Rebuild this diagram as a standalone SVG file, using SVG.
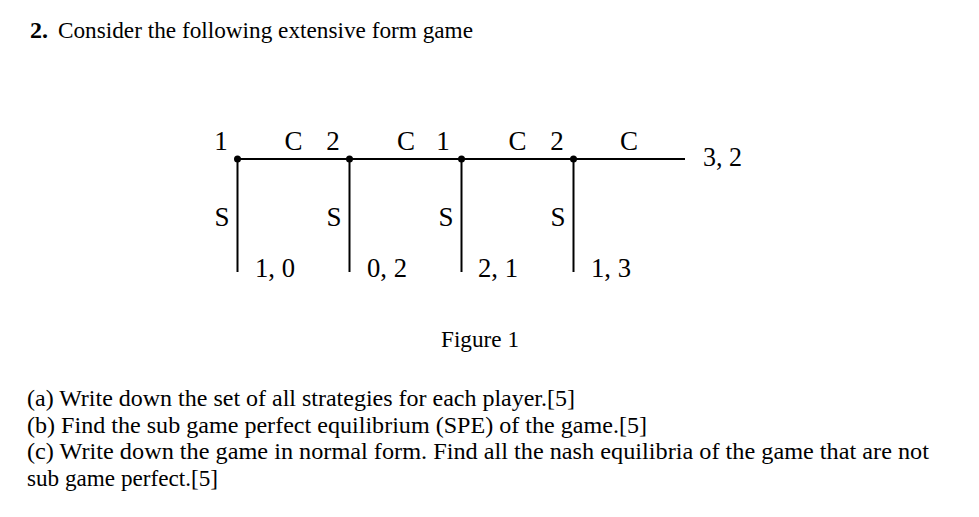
<svg xmlns="http://www.w3.org/2000/svg" width="979" height="517" viewBox="0 0 979 517">
<style>
text{font-family:"Liberation Serif","DejaVu Serif",serif;fill:#000}
.t{font-size:22.5px}
.g{font-size:27px}
.e{stroke:#000;stroke-width:2;fill:none}
</style>
<rect width="979" height="517" fill="#fff"/>
<text class="t" x="30" y="38" font-weight="bold" textLength="18" lengthAdjust="spacingAndGlyphs">2.</text>
<text class="t" x="58" y="38" textLength="415" lengthAdjust="spacingAndGlyphs">Consider the following extensive form game</text>
<g id="connectors">
<line class="e" x1="237.5" y1="159" x2="685" y2="159"/>
<line class="e" x1="237.5" y1="159" x2="237.5" y2="272"/>
<line class="e" x1="349.5" y1="159" x2="349.5" y2="272"/>
<line class="e" x1="461.5" y1="159" x2="461.5" y2="272"/>
<line class="e" x1="573.5" y1="159" x2="573.5" y2="272"/>
<text class="g" x="293.5" y="150" text-anchor="middle">C</text>
<text class="g" x="406" y="150" text-anchor="middle">C</text>
<text class="g" x="517.5" y="150" text-anchor="middle">C</text>
<text class="g" x="629" y="150" text-anchor="middle">C</text>
<text class="g" x="222" y="226" text-anchor="middle">S</text>
<text class="g" x="334" y="226" text-anchor="middle">S</text>
<text class="g" x="446" y="226" text-anchor="middle">S</text>
<text class="g" x="558" y="226" text-anchor="middle">S</text>
</g>
<g id="n1"><circle cx="237.5" cy="159" r="3.5"/><text class="g" x="221" y="150" text-anchor="middle">1</text></g>
<g id="n2"><circle cx="349.5" cy="159" r="3.5"/><text class="g" x="333" y="150" text-anchor="middle">2</text></g>
<g id="n3"><circle cx="461.5" cy="159" r="3.5"/><text class="g" x="443" y="150" text-anchor="middle">1</text></g>
<g id="n4"><circle cx="573.5" cy="159" r="3.5"/><text class="g" x="557" y="150" text-anchor="middle">2</text></g>
<g id="p1"><text class="g" x="255" y="277" textLength="40" lengthAdjust="spacingAndGlyphs">1, 0</text></g>
<g id="p2"><text class="g" x="367" y="277" textLength="40" lengthAdjust="spacingAndGlyphs">0, 2</text></g>
<g id="p3"><text class="g" x="478" y="277" textLength="40" lengthAdjust="spacingAndGlyphs">2, 1</text></g>
<g id="p4"><text class="g" x="591" y="277" textLength="40" lengthAdjust="spacingAndGlyphs">1, 3</text></g>
<g id="p5"><text class="g" x="703" y="166" textLength="39" lengthAdjust="spacingAndGlyphs">3, 2</text></g>
<text class="t" x="441" y="347" textLength="78" lengthAdjust="spacingAndGlyphs">Figure 1</text>
<text class="t" x="27" y="406" textLength="548" lengthAdjust="spacingAndGlyphs">(a) Write down the set of all strategies for each player.[5]</text>
<text class="t" x="27" y="432.5" textLength="620" lengthAdjust="spacingAndGlyphs">(b) Find the sub game perfect equilibrium (SPE) of the game.[5]</text>
<text class="t" x="27" y="459" textLength="902" lengthAdjust="spacingAndGlyphs">(c) Write down the game in normal form. Find all the nash equilibria of the game that are not</text>
<text class="t" x="27" y="485.5" textLength="191" lengthAdjust="spacingAndGlyphs">sub game perfect.[5]</text>
</svg>
